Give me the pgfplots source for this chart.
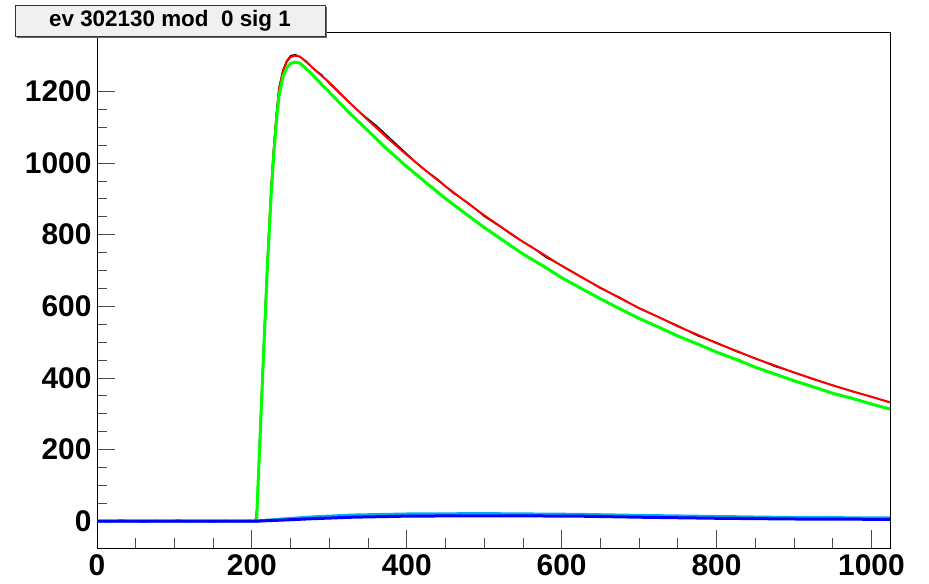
\documentclass[border=0pt]{standalone}
\usepackage{pgfplots}
\pgfplotsset{compat=1.18}
\usepackage{fontspec}
\setmainfont{Liberation Sans}
\begin{document}
\begin{tikzpicture}
\path[use as bounding box] (0,0) rectangle (929bp,584bp);
\begin{axis}[
  at={(97bp,36bp)}, anchor=south west,
  scale only axis, width=793bp, height=516bp,
  xmin=0, xmax=1024, ymin=-75, ymax=1366,
  xtick={0,200,...,1000}, ytick={0,200,...,1200},
  minor x tick num=3, minor y tick num=3,
  tick pos=left, tick align=inside,
  major tick length=18bp, minor tick length=10bp,
  every tick/.style={black!70, line width=0.8bp},
  axis line style={black, line width=0.9bp},
  /pgf/number format/assume math mode=true,
  /pgf/number format/1000 sep={},
  ticklabel style={font=\fontsize{30}{34}\selectfont\bfseries},
  yticklabel style={xshift=-2bp},
  xticklabel style={yshift=-3bp},
  clip=true,
]
% black data
\addplot[black, line width=1.2bp] coordinates {
(0,2) (15,-2) (30,3) (45,0) (60,-3) (75,2) (90,-1) (105,3) (120,-2) (135,1) (150,-3) (165,2) (180,-1) (195,2) (204,1)
(207,40) (210,230) (215,490) (220,735) (225,945) (228,1045) (232,1150) (235,1212) (240,1260) (245,1286) (250,1300) (256,1303) (262,1297) (270,1285) (280,1262) (290,1247) (300,1222)
(320,1180) (340,1141) (360,1106) (380,1066) (400,1026) (420,986) (440,955) (460,916) (480,888) (500,851) (520,823) (540,793) (560,768) (580,736) (600,714) (625,683) (650,650) (675,625) (700,594) (725,570) (750,546) (775,518) (800,499) (825,474) (850,455) (875,432) (900,416) (925,396) (950,380) (975,362) (1000,348) (1024,331)
};
% red fit
\addplot[red, line width=2bp] coordinates {
(0,0) (206,0) (210,210) (215,470) (220,720) (225,930) (228,1030) (232,1140) (235,1205) (240,1255) (245,1283) (250,1296) (256,1300) (262,1297) (270,1283) (280,1263) (290,1244) (300,1225)
(325,1171) (350,1120) (375,1070) (400,1023) (425,978) (450,935) (475,894) (500,854) (525,817) (550,780) (575,747) (600,713) (625,682) (650,652) (675,623) (700,595) (725,570) (750,544) (775,521) (800,497) (825,476) (850,454) (875,435) (900,415) (925,397) (950,379) (975,363) (1000,347) (1024,332)
};
% green component
\addplot[green, line width=3bp] coordinates {
(206,0) (210,205) (215,462) (220,708) (225,915) (228,1015) (232,1124) (235,1188) (240,1240) (245,1266) (250,1278) (256,1282) (262,1279) (270,1264) (280,1243) (290,1220) (300,1198)
(325,1142) (350,1090) (375,1038) (400,990) (425,945) (450,901) (475,860) (500,820) (525,783) (550,746) (575,714) (600,680) (625,650) (650,621) (675,593) (700,566) (725,542) (750,517) (775,495) (800,472) (825,452) (850,430) (875,411) (900,392) (925,375) (950,357) (975,343) (1000,327) (1024,313)
};
% cyan component
\addplot[cyan, line width=3bp] coordinates {
(0,0) (205,0) (240,6) (280,12) (330,17) (400,20) (500,21) (620,19) (700,16) (800,13) (900,10) (1024,9)
};
% blue component
\addplot[blue, line width=3bp] coordinates {
(0,0) (205,0) (240,3) (280,7) (330,11) (400,14) (500,15) (620,14) (700,11) (800,8) (900,6) (1024,5)
};
\end{axis}
% title box
\fill[black!60] (17bp,546bp) rectangle (327bp,577bp);
\filldraw[fill=black!6, draw=black!80, line width=0.8bp] (15bp,548bp) rectangle (325bp,579bp);
\node[font=\fontsize{22.5}{26}\selectfont\bfseries] at (170bp,563.5bp) {ev 302130 mod\ \ 0 sig 1};
\end{tikzpicture}
\end{document}
